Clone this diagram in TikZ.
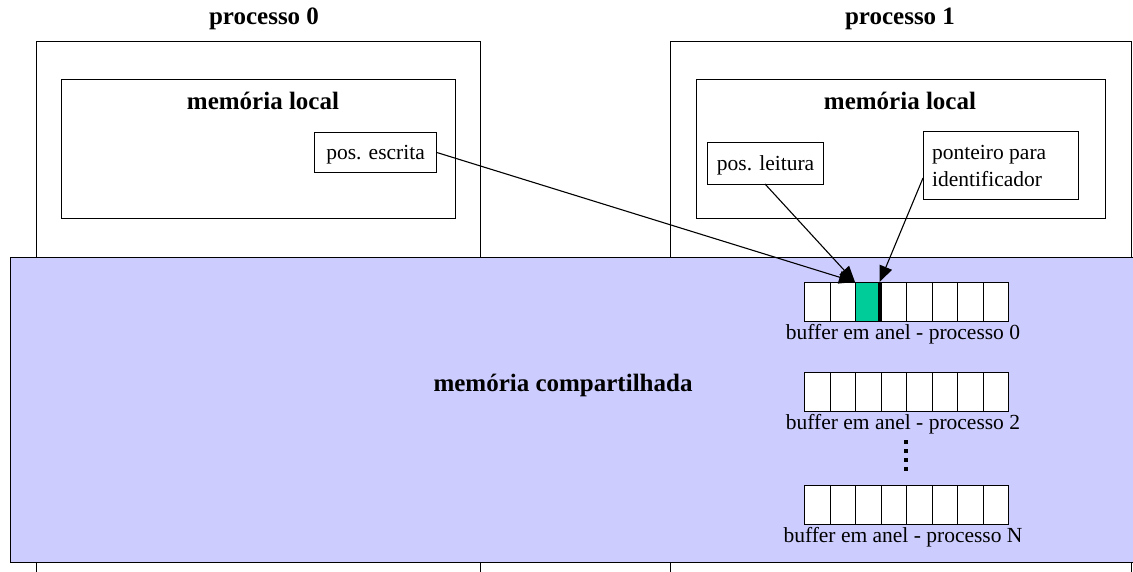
\documentclass[tikz,border=0pt]{standalone}
\usepackage{fontspec}
\setmainfont{Liberation Serif}
\usetikzlibrary{arrows.meta}
\definecolor{shmem}{HTML}{CCCCFF}
\definecolor{slot}{HTML}{00CC99}
\begin{document}
\begin{tikzpicture}[x=1pt,y=-1pt,
  box/.style={draw, line width=1.2pt, rectangle, inner sep=0pt, anchor=north west},
  txt/.style={font=\fontsize{21.5}{27}\selectfont, inner sep=0pt},
  title/.style={font=\bfseries\fontsize{25}{29}\selectfont, inner sep=0pt},
  cell/.style={draw, line width=1.2pt, fill=white, minimum width=25.5pt, minimum height=39pt, inner sep=0pt, anchor=north west},
  ptr/.style={line width=1.1pt, -{Triangle[length=16pt,width=13pt]}}]
\useasboundingbox (0,0) rectangle (1133,571);
\fill[white] (0,0) rectangle (1133,571);

% process frames
\node[box, minimum width=444pt, minimum height=531pt] (p0) at (36,41) {};
\node[box, minimum width=461pt, minimum height=531pt] (p1) at (670,41) {};
\node[title] (p0t) at (264,19) {processo 0};
\node[title] (p1t) at (900,19) {processo 1};

% local memories
\node[box, minimum width=394pt, minimum height=139pt] (m0) at (61,79) {};
\node[box, minimum width=409pt, minimum height=139pt] (m1) at (696,79) {};
\node[title] (m0t) at (263,101) {memória local};
\node[title] (m1t) at (900,101) {memória local};

% shared memory
\node[box, fill=shmem, minimum width=1124pt, minimum height=305pt] (sh) at (10,257) {};
\node[title] (sht) at (563,385) {memória compartilhada};

% local variables
\node[box, minimum width=122pt, minimum height=40pt] (esc) at (314,132) {};
\node[txt] at ([yshift=-2pt]esc.center) {pos. escrita};
\node[box, minimum width=116pt, minimum height=42pt] (lei) at (707,142) {};
\node[txt] at ([yshift=-2pt]lei.center) {pos. leitura};
\node[box, minimum width=155pt, minimum height=68pt] (pnt) at (923,131) {};
\node[txt, align=left, anchor=west] at (932,166) {ponteiro para\\identificador};

% ring buffers
\foreach \b/\y in {0/282, 2/372, N/485} {
  \foreach \i in {1,...,8} {
    \node[cell] (b\b c\i) at ({804+(\i-1)*25.5},\y) {};
  }
  \node[txt] (b\b l) at (903,{\y+52}) {buffer em anel - processo \b};
}
\node[cell, fill=slot] (g) at (b0c3.north west) {};
\draw[line width=3.5pt] ([xshift=-1.5pt]g.north east) -- ([xshift=-1.5pt]g.south east);

% dots between buffers
\draw[line width=4pt, dash pattern=on 4pt off 5pt] (906,440) -- (906,475);

% pointers
\draw[ptr] (esc.east) -- (g.north west);
\draw[ptr] (765,184) -- (g.north west);
\draw[ptr] (923,178) -- ([xshift=-2pt]g.north east);
\end{tikzpicture}
\end{document}
